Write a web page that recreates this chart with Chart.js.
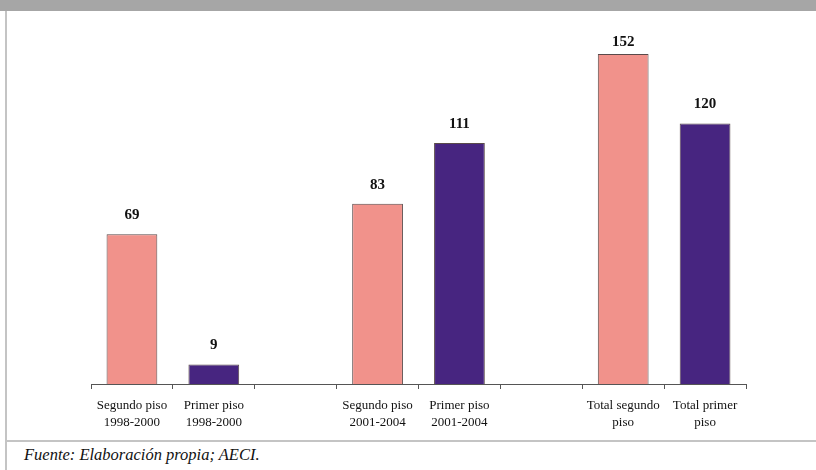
<!DOCTYPE html>
<html>
<head>
<meta charset="utf-8">
<script src="https://cdn.jsdelivr.net/npm/chart.js@4/dist/chart.umd.min.js"></script>
<style>
  html, body { margin: 0; padding: 0; background: #fff; }
  #wrap { position: relative; width: 816px; height: 470px; overflow: hidden; }
  #band { position: absolute; left: 0; top: 0; width: 816px; height: 11px; background: #a6a6a6; }
  #vline { position: absolute; left: 5px; top: 11px; width: 2px; height: 459px; background: #c4c4c4; }
  #hline { position: absolute; left: 5px; top: 440px; width: 811px; height: 2px; background: #c4c4c4; }
  #src { position: absolute; left: 24px; top: 446px; font-family: "Liberation Serif", serif; font-style: italic; font-size: 16.5px; line-height: 18px; color: #111; white-space: nowrap; }
  #cv { position: absolute; left: 0; top: 0; }
</style>
</head>
<body>
<div id="wrap">
  <div id="band"></div>
  <div id="vline"></div>
  <div id="hline"></div>
  <canvas id="cv" width="816" height="440"></canvas>
  <div id="src">Fuente: Elaboración propia; AECI.</div>
</div>
<script>
const categories = [
  ["Segundo piso", "1998-2000"],
  ["Primer piso", "1998-2000"],
  "",
  ["Segundo piso", "2001-2004"],
  ["Primer piso", "2001-2004"],
  "",
  ["Total segundo", "piso"],
  ["Total primer", "piso"]
];
const values = [69, 9, null, 83, 111, null, 152, 120];
const barColors = ["#f1928b", "#472580", "#ffffff", "#f1928b", "#472580", "#ffffff", "#f1928b", "#472580"];

const valueLabels = {
  id: 'valueLabels',
  afterDatasetsDraw(chart) {
    const ctx = chart.ctx;
    const meta = chart.getDatasetMeta(0);
    ctx.save();
    ctx.font = 'bold 15px "Liberation Serif", serif';
    ctx.fillStyle = '#111';
    ctx.textAlign = 'center';
    ctx.textBaseline = 'alphabetic';
    meta.data.forEach((bar, i) => {
      const v = values[i];
      if (v === null) return;
      const y = Math.max(bar.y - 15, 46);
      ctx.fillText(String(v), bar.x, y);
    });
    ctx.restore();
  }
};

new Chart(document.getElementById('cv'), {
  type: 'bar',
  data: {
    labels: categories,
    datasets: [{
      data: values,
      backgroundColor: barColors,
      borderColor: '#5a4a4a',
      borderWidth: 1,
      categoryPercentage: 1,
      barPercentage: 0.62
    }]
  },
  options: {
    responsive: false,
    animation: false,
    devicePixelRatio: 1,
    layout: { padding: { left: 91, right: 70, top: 54, bottom: 0 } },
    plugins: { legend: { display: false }, tooltip: { enabled: false } },
    scales: {
      x: {
        grid: { display: true, drawOnChartArea: false, drawTicks: true, tickLength: 5, color: '#555', offset: true },
        border: { display: true, color: '#555', width: 1 },
        ticks: {
          color: '#111',
          font: { family: '"Liberation Serif", serif', size: 13, lineHeight: 1.3 },
          padding: 8,
          maxRotation: 0,
          autoSkip: false
        },
        afterFit(scale) { scale.height = 56; }
      },
      y: {
        display: false,
        min: 0,
        max: 152
      }
    }
  },
  plugins: [valueLabels]
});
</script>
</body>
</html>
